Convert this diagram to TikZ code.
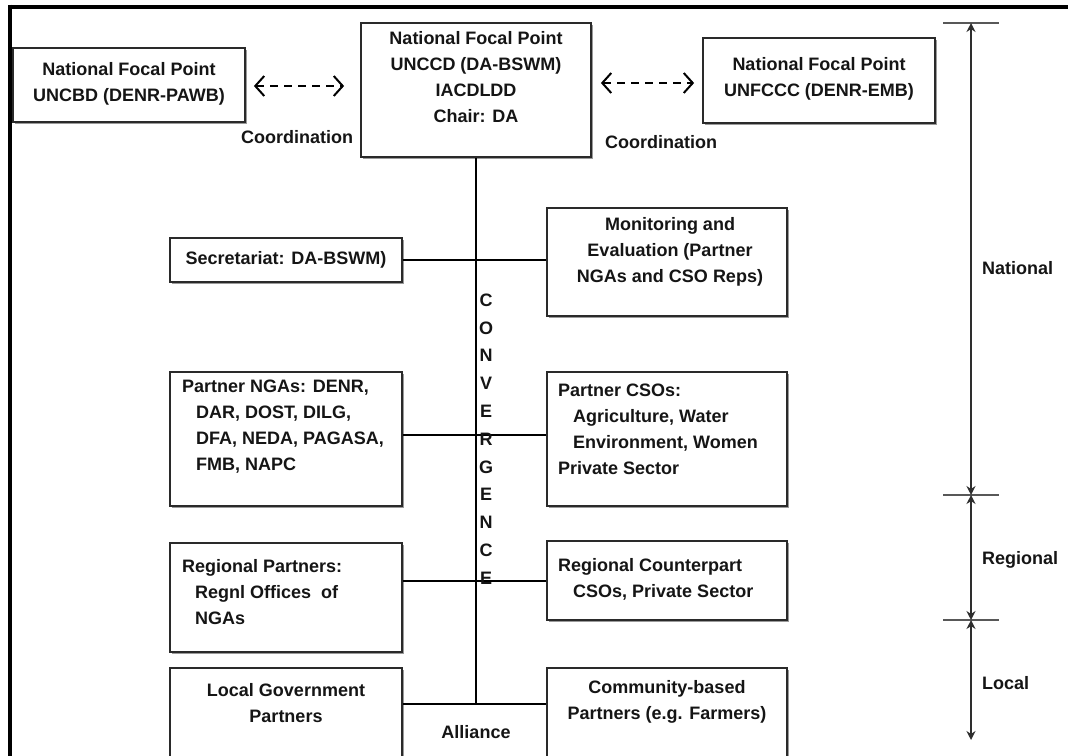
\documentclass[tikz,border=0pt]{standalone}
\usepackage{fontspec}
\setmainfont{Liberation Sans}
\usetikzlibrary{arrows.meta,shadows}
\definecolor{boxline}{HTML}{2A2A2A}
\definecolor{shade}{HTML}{9A9A9A}
\definecolor{ink}{HTML}{151515}
\definecolor{axis}{HTML}{2E2E2E}
\begin{document}
\begin{tikzpicture}[x=1pt,y=-1pt,
  every node/.style={font=\bfseries\fontsize{18}{26}\selectfont, text=ink},
  box/.style={draw=boxline, line width=1.8pt, fill=white, inner sep=0pt,
    drop shadow={shadow xshift=1.5pt, shadow yshift=-1.5pt, fill=shade, opacity=1}},
  txt/.style={inner sep=0pt},
  link/.style={draw=black, line width=2.6pt},
  coord/.style={draw=black, line width=2pt, dash pattern=on 8pt off 6pt,
    {Straight Barb[length=9pt,width=20pt,line width=2pt]}-{Straight Barb[length=9pt,width=20pt,line width=2pt]}},
  axline/.style={draw=axis, line width=2.6pt, {Stealth[length=9pt,width=9pt]}-{Stealth[length=9pt,width=9pt]}},
  tickline/.style={draw=axis!80, line width=2.6pt},
]
\useasboundingbox (0,0) rectangle (1068,755);
\begin{scope}
\clip (0,0) rectangle (1068,755);
% frame
\draw[line width=4pt] (8,6.5) -- (1068,6.5);
\draw[line width=4pt] (10.3,4.5) -- (10.3,760);

% boxes
\node[box, minimum width=232pt, minimum height=74pt]  (cbd)  at (129,85) {};
\node[box, minimum width=230pt, minimum height=134pt] (ccd)  at (476,90) {};
\node[box, minimum width=232pt, minimum height=85pt]  (fccc) at (819,80.5) {};
\node[box, minimum width=232pt, minimum height=44pt]  (sec)  at (286,260) {};
\node[box, minimum width=240pt, minimum height=108pt] (me)   at (667,262) {};
\node[box, minimum width=232pt, minimum height=134pt] (nga)  at (286,439) {};
\node[box, minimum width=240pt, minimum height=134pt] (cso)  at (667,439) {};
\node[box, minimum width=232pt, minimum height=109pt] (reg)  at (286,597.5) {};
\node[box, minimum width=240pt, minimum height=79pt]  (regc) at (667,580.5) {};
\node[box, minimum width=232pt, minimum height=132pt] (lgp)  at (286,734) {};
\node[box, minimum width=240pt, minimum height=132pt] (cbp)  at (667,734) {};

% texts
\node[txt, align=center] (tcbd) at (129,84) {National Focal Point\\UNCBD (DENR-PAWB)};
\node[txt, align=center] (tccd) at (476,77) {National Focal Point\\UNCCD (DA-BSWM)\\IACDLDD\\Chair: DA};
\node[txt, align=center] (tfccc) at (819,79) {National Focal Point\\UNFCCC (DENR-EMB)};
\node[txt] (tsec) at (286,260) {Secretariat: DA-BSWM)};
\node[txt, align=center] (tme) at (670,252) {Monitoring and\\Evaluation (Partner\\NGAs and CSO Reps)};
\node[txt, align=left, anchor=north west] (tnga) at (182,379.5)
  {Partner NGAs: DENR,\\\hspace*{14pt}DAR, DOST, DILG,\\\hspace*{14pt}DFA, NEDA, PAGASA,\\\hspace*{14pt}FMB, NAPC};
\node[txt, align=left, anchor=north west] (tcso) at (558,383.5)
  {Partner CSOs:\\\hspace*{15pt}Agriculture, Water\\\hspace*{15pt}Environment, Women\\Private Sector};
\node[txt, align=left, anchor=north west] (treg) at (182,559.5)
  {Regional Partners:\\\hspace*{13pt}Regnl Offices\ \ of\\\hspace*{13pt}NGAs};
\node[txt, align=left, anchor=north west] (tregc) at (558,558.5)
  {Regional Counterpart\\\hspace*{15pt}CSOs, Private Sector};
\node[txt, align=center] (tlgp) at (286,703) {Local Government\\Partners};
\node[txt, align=center] (tcbp) at (667,702) {Community-based\\Partners (e.g. Farmers)};

% convergence spine
\coordinate (spinebot) at (476,704);
\draw[link, line width=2pt] (ccd.south) -- (spinebot);
\draw[link] (sec.east) -- (sec.east -| me.west);
\draw[link] (nga.east |- 0,435) -- (cso.west |- 0,435);
\draw[link, line width=2pt] (reg.east |- 0,581) -- (regc.west |- 0,581);
\draw[link] (lgp.east |- spinebot) -- (cbp.west |- spinebot);
\node[txt, align=center, font=\bfseries\fontsize{18}{27.8}\selectfont] (conv) at (486,439)
  {C\\O\\N\\V\\E\\R\\G\\E\\N\\C\\E};
\node[txt] (alli) at (476,732) {Alliance};

% coordination arrows
\draw[coord] ([xshift=8pt]cbd.east |- 0,86) -- ([xshift=-16pt]ccd.west |- 0,86);
\draw[coord] ([xshift=9pt]ccd.east |- 0,83) -- ([xshift=-8pt]fccc.west |- 0,83);
\node[txt] (coordl) at (297,137) {Coordination};
\node[txt] (coordr) at (661,142) {Coordination};

% level axis
\coordinate (ax0) at (971,23);
\coordinate (ax1) at (971,495);
\coordinate (ax2) at (971,620);
\coordinate (ax3) at (971,740);
\draw[tickline] ([xshift=-28pt]ax0) -- ([xshift=28pt]ax0);
\draw[tickline] ([xshift=-28pt]ax1) -- ([xshift=28pt]ax1);
\draw[tickline] ([xshift=-28pt]ax2) -- ([xshift=28pt]ax2);
\draw[axline] (ax0) -- (ax1);
\draw[axline] (ax1) -- (ax2);
\draw[axline] (ax2) -- (ax3);
\node[txt, anchor=west] (lnat) at (982,268) {National};
\node[txt, anchor=west] (lreg) at (982,560) {Regional};
\node[txt, anchor=west] (lloc) at (982,683) {Local};
\end{scope}
\end{tikzpicture}
\end{document}
